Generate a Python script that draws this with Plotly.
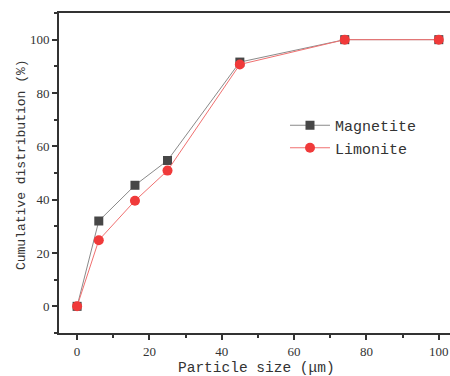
import plotly.graph_objects as go

particle_size = [0, 6, 16, 25, 45, 74, 100]
magnetite = [0, 32.0, 45.4, 54.7, 91.6, 100, 100]
limonite = [0, 24.8, 39.6, 50.9, 90.7, 100, 100]

x_title = "Particle size (μm)"
y_title = "Cumulative distribution (%)"

fig = go.Figure()
fig.add_trace(go.Scatter(
    x=particle_size, y=magnetite, name="Magnetite", mode="lines+markers",
    line=dict(color="#8a8a8a", width=1),
    marker=dict(symbol="square", size=9, color="#474747"),
))
fig.add_trace(go.Scatter(
    x=particle_size, y=limonite, name="Limonite", mode="lines+markers",
    line=dict(color="#f07070", width=1),
    marker=dict(symbol="circle", size=10, color="#f03a3a"),
))

serif = "Liberation Serif, Times New Roman, serif"
mono = "Liberation Mono, Courier New, monospace"

axis_common = dict(
    showgrid=False, zeroline=False, showline=True, linecolor="#333333", linewidth=2,
    ticks="outside", ticklen=5, tickwidth=1.5, tickcolor="#333333",
    tickfont=dict(family=serif, size=13, color="#333333"),
    minor=dict(ticks="outside", ticklen=3, tickwidth=1.5, tickcolor="#333333", dtick=10),
    automargin=False,
)

fig.update_layout(
    width=450, height=376,
    margin=dict(l=59, r=0, t=13, b=43),
    paper_bgcolor="white", plot_bgcolor="white",
    xaxis=dict(range=[-5, 103.1], dtick=20, tick0=0, mirror=True, **axis_common),
    yaxis=dict(range=[-10, 110], dtick=20, tick0=0, **axis_common),
    legend=dict(x=0.578, y=0.70, xanchor="left", yanchor="top", itemwidth=40,
                bgcolor="rgba(0,0,0,0)", tracegroupgap=0,
                font=dict(family=mono, size=15, color="#333333")),
    annotations=[
        dict(text=x_title, xref="paper", yref="paper", x=0.505, y=-0.109,
             xanchor="center", yanchor="middle", showarrow=False,
             font=dict(family=mono, size=14.5, color="#333333")),
        dict(text=y_title, xref="paper", yref="paper", x=-0.097, y=0.525,
             xanchor="center", yanchor="middle", showarrow=False, textangle=-90,
             font=dict(family=mono, size=13, color="#333333")),
    ],
)

fig.write_html("out.html")
